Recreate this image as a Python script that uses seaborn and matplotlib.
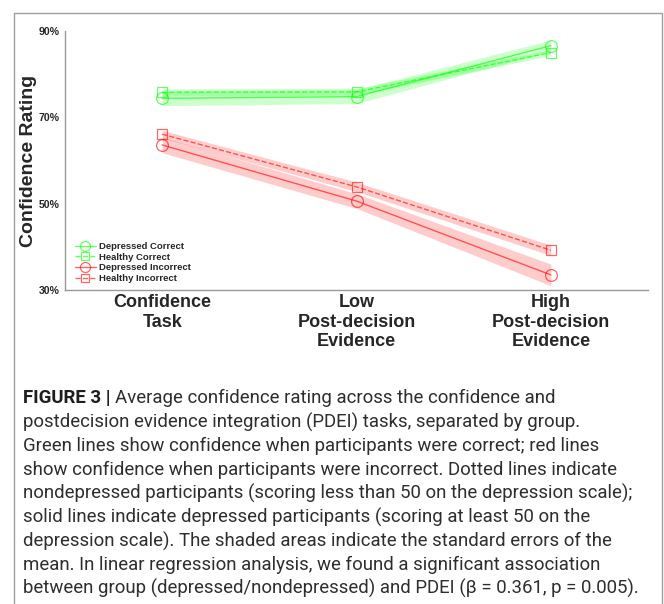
import matplotlib
matplotlib.use("Agg")
import matplotlib.pyplot as plt
from matplotlib.lines import Line2D
import numpy as np
import pandas as pd
import seaborn as sns

# ---- data ----
tasks = ["Confidence\nTask", "Low\nPost-decision\nEvidence", "High\nPost-decision\nEvidence"]
task_pos = [1, 2, 3]
dep_correct = [74.4, 74.8, 86.6]
dep_correct_se = [1.7, 1.6, 1.3]
hea_correct = [75.8, 75.9, 85.0]
hea_correct_se = [0.8, 0.8, 0.7]
dep_incorrect = [63.6, 50.6, 33.5]
dep_incorrect_se = [1.8, 1.7, 2.5]
hea_incorrect = [66.1, 53.9, 39.2]
hea_incorrect_se = [0.9, 1.1, 1.2]
series_names = ["Depressed Correct", "Healthy Correct", "Depressed Incorrect", "Healthy Incorrect"]
yticks_major = [30, 50, 70, 90]
yticks_minor = [40, 60, 80]

caption_lines = [
    "Average confidence rating across the confidence and",
    "postdecision evidence integration (PDEI) tasks, separated by group.",
    "Green lines show confidence when participants were correct; red lines",
    "show confidence when participants were incorrect. Dotted lines indicate",
    "nondepressed participants (scoring less than 50 on the depression scale);",
    "solid lines indicate depressed participants (scoring at least 50 on the",
    "depression scale). The shaded areas indicate the standard errors of the",
    "mean. In linear regression analysis, we found a significant association",
    "between group (depressed/nondepressed) and PDEI (\u03b2 = 0.361, p = 0.005).",
]

sns.set_style("white")
plt.rcParams["font.family"] = ["Liberation Sans", "DejaVu Sans"]

W, H = 664, 604
fig = plt.figure(figsize=(W / 100, H / 100), dpi=100)

def fx(px):
    return px / W

def fy(py):
    return 1 - py / H

ax = fig.add_axes([fx(65), fy(290), fx(648) - fx(65), fy(31) - fy(290)])

vals = [dep_correct, hea_correct, dep_incorrect, hea_incorrect]
ses = [dep_correct_se, hea_correct_se, dep_incorrect_se, hea_incorrect_se]
colors = ["#00ff00", "#00ff00", "#ff0000", "#ff0000"]
styles = ["-", "--", "-", "--"]
markers = ["o", "s", "o", "s"]
msizes = [8.5, 6.5, 8.5, 6.5]

for name, v, s, c, ls, mk, ms in zip(series_names, vals, ses, colors, styles, markers, msizes):
    v = np.array(v); s = np.array(s)
    ax.fill_between(task_pos, v - s, v + s, color=c, alpha=0.2, linewidth=0)
    df = pd.DataFrame({"x": task_pos, "y": v})
    sns.lineplot(data=df, x="x", y="y", ax=ax, color=c, linestyle=ls, linewidth=1.0,
                 alpha=0.6, marker=mk, markersize=ms, markerfacecolor="none",
                 markeredgecolor=c, markeredgewidth=0.9)

ax.set_xlim(0.5, 3.5)
ax.set_ylim(30, 90)
ax.set_xticks(task_pos)
ax.set_xticklabels(tasks, fontsize=13, fontweight="bold", linespacing=1.2)
ax.set_yticks(yticks_major)
ax.set_yticklabels([f"{t}%" for t in yticks_major], fontsize=7.6, fontweight="bold")
ax.set_yticks(yticks_minor, minor=True)
ax.tick_params(axis="both", which="both", direction="in", length=5, color="#999999", width=1)
ax.tick_params(axis="x", pad=3)
ax.tick_params(axis="y", pad=4)
ax.set_xlabel("")
ax.set_ylabel("Confidence Rating", fontsize=14, fontweight="bold")
ax.yaxis.set_label_coords(-0.048, 0.5)
for sp in ["top", "right"]:
    ax.spines[sp].set_visible(False)
for sp in ["left", "bottom"]:
    ax.spines[sp].set_color("#999999")
    ax.spines[sp].set_linewidth(1)

handles = []
for name, c, ls, mk, ms in zip(series_names, colors, styles, markers, msizes):
    handles.append(Line2D([0], [0], color=c, linestyle=ls, linewidth=1, alpha=0.6,
                          marker=mk, markersize=ms * 0.85, markerfacecolor="none",
                          markeredgecolor=c, markeredgewidth=0.9))
leg = ax.legend(handles, series_names, loc="lower left", bbox_to_anchor=(0.005, 0.0),
                frameon=False, prop={"size": 6.8, "weight": "bold"}, handlelength=2.2,
                handletextpad=0.3, labelspacing=0.18, borderaxespad=0.35)

# frame lines
gray = "#a0a0a0"
fig.add_artist(Line2D([fx(14), fx(14)], [fy(13), 0], transform=fig.transFigure, color=gray, lw=1.0))
fig.add_artist(Line2D([fx(14), fx(662)], [fy(13), fy(13)], transform=fig.transFigure, color=gray, lw=1.0))
fig.add_artist(Line2D([fx(662), fx(662)], [fy(13), 0], transform=fig.transFigure, color=gray, lw=1.0))

# caption
fig.canvas.draw()
renderer = fig.canvas.get_renderer()
cap_fam = ["Roboto", "Liberation Sans", "DejaVu Sans"]
target = 639 - 23
fs = 12
t = fig.text(0, 0, caption_lines[-1], fontsize=fs, family=cap_fam, fontweight="normal")
wpx = t.get_window_extent(renderer).width
t.remove()
fs = fs * target / wpx

line_y = [398, 422, 446, 469.5, 493, 517, 541, 564.5, 588]
bold = fig.text(fx(23), fy(line_y[0]), "FIGURE 3 | ", fontsize=fs, fontweight="bold",
                family=cap_fam, va="center", ha="left", color="#1e1e1e")
bw = bold.get_window_extent(renderer).width
fig.text(fx(23 + bw), fy(line_y[0]), caption_lines[0], fontsize=fs, family=cap_fam,
         fontweight="normal", va="center", ha="left", color="#2e2e2e")
for ln, yy in zip(caption_lines[1:], line_y[1:]):
    fig.text(fx(23), fy(yy), ln, fontsize=fs, family=cap_fam, fontweight="normal",
             va="center", ha="left", color="#2e2e2e")

fig.savefig("out.png", dpi=100)
